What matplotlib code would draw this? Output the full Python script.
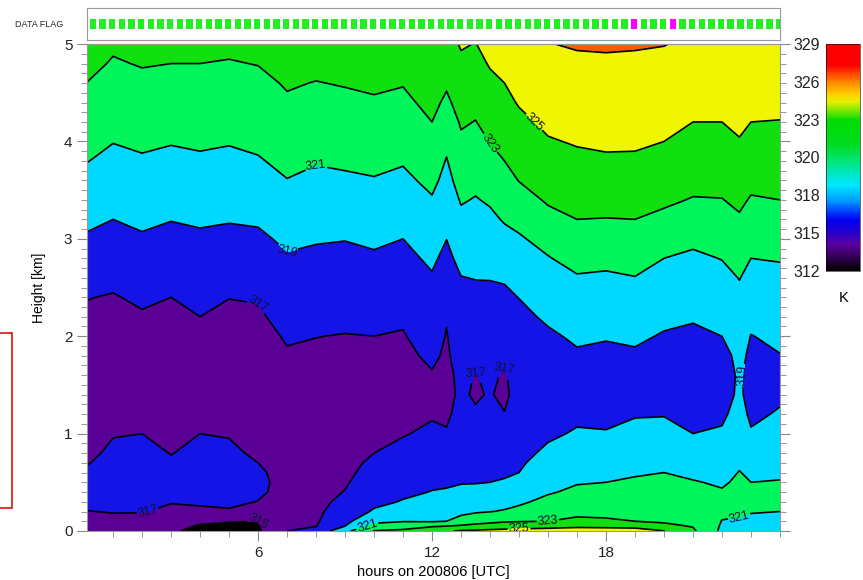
import numpy as np
import matplotlib
matplotlib.use("Agg")
import matplotlib.pyplot as plt
from matplotlib.colors import LinearSegmentedColormap, Normalize
from matplotlib.cm import ScalarMappable
from matplotlib.patches import Rectangle
from matplotlib.ticker import MultipleLocator

plt.rcParams['font.family'] = ['Liberation Sans', 'DejaVu Sans']

# time of each profile (hours UTC) and height levels (km)
hours = [0.1, 1, 2, 3, 4, 5, 6, 7, 8, 9, 10, 11, 12, 12.5, 13, 13.5, 14, 14.5,
         15, 16, 17, 18, 19, 20, 21, 22, 22.6, 23, 24]
height_km = [0, 0.05, 0.1, 0.2, 0.3, 0.4, 0.5, 0.6, 0.7, 0.8, 1.0, 1.2, 1.4, 1.6,
             1.8, 2.0, 2.2, 2.4, 2.6, 2.8, 3.0, 3.2, 3.4, 3.6, 3.8, 4.0, 4.2, 4.4,
             4.6, 4.8, 5.0]

# potential temperature profiles [K], one row per time, ground -> 5 km
theta = [
    [316.0, 316.3, 316.5, 316.95, 317.5, 317.9, 317.8, 317.3, 316.9, 316.6, 316.3, 316.1, 316.0, 316.1, 316.3, 316.5, 316.75, 317.05, 317.6, 318.2, 318.8, 319.35, 319.9, 320.5, 321.05, 321.55, 322.0, 322.5, 322.98, 323.45, 323.9],
    [315.8, 316.1, 316.5, 317.1, 317.6, 317.9, 318.0, 317.9, 317.6, 317.35, 316.9, 316.5, 316.2, 316.1, 316.2, 316.4, 316.65, 316.9, 317.35, 317.9, 318.45, 319.0, 319.5, 320.0, 320.55, 321.05, 321.5, 321.95, 322.4, 322.85, 323.25],
    [315.6, 316.0, 316.4, 317.1, 317.6, 317.9, 318.05, 318.0, 317.8, 317.5, 317.0, 316.6, 316.3, 316.2, 316.3, 316.55, 316.85, 317.25, 317.8, 318.35, 318.85, 319.25, 319.8, 320.3, 320.8, 321.3, 321.75, 322.2, 322.65, 323.1, 323.55],
    [315.2, 315.5, 315.9, 316.6, 317.1, 317.5, 317.6, 317.45, 317.2, 316.95, 316.6, 316.3, 316.1, 316.0, 316.1, 316.3, 316.6, 317.0, 317.55, 318.05, 318.55, 319.05, 319.6, 320.1, 320.6, 321.1, 321.55, 322.05, 322.5, 323.0, 323.45],
    [314.6, 314.85, 315.3, 316.6, 317.3, 317.7, 317.85, 317.8, 317.6, 317.4, 317.0, 316.6, 316.3, 316.2, 316.3, 316.6, 317.0, 317.45, 317.9, 318.35, 318.75, 319.2, 319.7, 320.25, 320.75, 321.25, 321.7, 322.15, 322.6, 323.0, 323.45],
    [314.5, 314.8, 315.05, 316.8, 317.4, 317.7, 317.8, 317.7, 317.5, 317.3, 316.9, 316.55, 316.3, 316.2, 316.25, 316.4, 316.7, 317.03, 317.6, 318.1, 318.6, 319.1, 319.6, 320.15, 320.65, 321.1, 321.55, 322.0, 322.45, 322.9, 323.35],
    [314.6, 314.8, 315.0, 316.3, 316.95, 317.3, 317.45, 317.3, 317.0, 316.75, 316.5, 316.3, 316.2, 316.2, 316.3, 316.5, 316.8, 317.1, 317.65, 318.15, 318.7, 319.2, 319.75, 320.3, 320.85, 321.35, 321.8, 322.25, 322.6, 323.05, 323.5],
    [317.0, 316.8, 316.7, 316.55, 316.45, 316.4, 316.35, 316.3, 316.3, 316.3, 316.3, 316.35, 316.45, 316.6, 316.85, 317.15, 317.5, 317.9, 318.35, 318.85, 319.3, 319.85, 320.4, 320.95, 321.45, 321.95, 322.4, 322.8, 323.15, 323.6, 324.0],
    [317.6, 316.95, 316.8, 316.65, 316.55, 316.5, 316.45, 316.4, 316.4, 316.4, 316.4, 316.45, 316.55, 316.65, 316.8, 317.02, 317.45, 317.85, 318.25, 318.7, 319.12, 319.6, 320.1, 320.6, 321.12, 321.6, 322.05, 322.5, 322.95, 323.4, 323.8],
    [320.5, 319.0, 318.5, 317.9, 317.4, 317.05, 316.85, 316.7, 316.6, 316.55, 316.5, 316.5, 316.55, 316.65, 316.8, 316.95, 317.3, 317.75, 318.2, 318.6, 319.05, 319.6, 320.2, 320.75, 321.25, 321.75, 322.2, 322.65, 323.1, 323.5, 323.9],
    [323.1, 321.6, 320.6, 319.2, 318.6, 318.2, 317.8, 317.5, 317.25, 317.0, 316.8, 316.7, 316.65, 316.7, 316.8, 317.0, 317.45, 317.9, 318.35, 318.8, 319.25, 319.8, 320.35, 320.9, 321.4, 321.9, 322.35, 322.8, 323.3, 323.7, 324.1],
    [323.4, 322.1, 320.9, 319.9, 319.1, 318.7, 318.4, 318.1, 317.8, 317.45, 316.9, 316.6, 316.5, 316.55, 316.7, 316.9, 317.2, 317.65, 318.1, 318.55, 319.0, 319.55, 320.05, 320.6, 321.15, 321.65, 322.1, 322.6, 323.1, 323.55, 323.95],
    [324.4, 322.8, 320.8, 320.1, 319.55, 319.05, 318.75, 318.5, 318.25, 317.95, 317.3, 316.85, 316.75, 316.9, 317.25, 317.7, 318.0, 318.35, 318.85, 319.3, 319.8, 320.35, 320.85, 321.45, 321.95, 322.45, 323.0, 323.5, 323.95, 324.4, 324.85],
    [324.8, 323.0, 321.0, 320.2, 319.6, 319.1, 318.85, 318.6, 318.3, 317.9, 317.1, 316.8, 316.7, 316.7, 316.8, 316.92, 317.1, 317.55, 318.05, 318.55, 319.02, 319.5, 320.0, 320.45, 320.9, 321.4, 321.95, 322.65, 323.25, 323.8, 324.3],
    [325.2, 323.3, 321.6, 320.6, 319.7, 319.2, 318.95, 318.7, 318.45, 318.2, 317.8, 317.4, 317.2, 317.3, 317.6, 317.95, 318.3, 318.65, 318.95, 319.5, 320.0, 320.6, 321.15, 321.7, 322.2, 322.7, 323.2, 323.7, 324.2, 324.7, 325.15],
    [325.3, 323.6, 322.2, 320.8, 319.8, 319.3, 318.95, 318.7, 318.4, 318.1, 317.6, 317.15, 316.85, 316.95, 317.4, 317.85, 318.25, 318.6, 319.05, 319.5, 320.0, 320.45, 320.9, 321.4, 321.9, 322.4, 322.95, 323.45, 323.95, 324.45, 324.95],
    [325.5, 323.7, 322.6, 320.95, 320.1, 319.45, 319.0, 318.75, 318.5, 318.25, 317.8, 317.35, 317.1, 317.25, 317.6, 318.0, 318.35, 318.7, 319.05, 319.55, 320.1, 320.65, 321.2, 321.75, 322.5, 323.05, 323.6, 324.1, 324.6, 325.15, 325.6],
    [325.6, 324.0, 322.8, 321.15, 320.4, 319.6, 319.1, 318.85, 318.6, 318.3, 317.7, 317.05, 316.7, 316.85, 317.3, 317.8, 318.3, 318.7, 319.15, 319.75, 320.5, 321.15, 321.75, 322.4, 323.0, 323.5, 324.0, 324.5, 325.0, 325.5, 326.0],
    [325.7, 324.1, 322.9, 321.4, 320.75, 319.8, 319.3, 319.0, 318.8, 318.55, 318.1, 317.75, 317.6, 317.7, 317.95, 318.25, 318.6, 319.03, 319.65, 320.25, 320.8, 321.5, 322.3, 323.05, 323.55, 324.0, 324.55, 325.15, 325.6, 326.0, 326.35],
    [325.9, 324.3, 323.0, 322.1, 321.4, 320.85, 320.4, 320.0, 319.6, 319.3, 318.75, 318.4, 318.2, 318.2, 318.4, 318.75, 319.25, 319.85, 320.4, 320.9, 321.6, 322.5, 323.2, 323.7, 324.2, 324.85, 325.4, 325.8, 326.15, 326.55, 326.95],
    [326.0, 324.6, 323.4, 322.5, 321.9, 321.3, 320.9, 320.5, 320.15, 319.8, 319.15, 318.7, 318.45, 318.5, 318.8, 319.25, 319.85, 320.35, 320.85, 321.6, 322.3, 323.0, 323.55, 324.1, 324.6, 325.15, 325.6, 326.0, 326.35, 326.7, 327.15],
    [326.0, 324.5, 323.2, 322.6, 322.0, 321.45, 321.0, 320.65, 320.3, 319.95, 319.1, 318.6, 318.35, 318.4, 318.7, 319.1, 319.7, 320.25, 320.75, 321.45, 322.2, 322.95, 323.6, 324.2, 324.75, 325.3, 325.75, 326.15, 326.45, 326.75, 327.2],
    [325.9, 324.4, 323.0, 322.55, 322.1, 321.65, 321.2, 320.85, 320.5, 320.2, 319.6, 318.85, 318.45, 318.4, 318.75, 319.3, 319.85, 320.4, 320.95, 321.65, 322.35, 323.0, 323.6, 324.15, 324.7, 325.3, 325.75, 326.15, 326.45, 326.7, 327.15],
    [325.05, 323.4, 322.8, 322.4, 322.0, 321.65, 321.3, 321.0, 320.7, 320.35, 319.65, 318.9, 318.5, 318.4, 318.55, 318.85, 319.4, 319.95, 320.5, 321.0, 321.8, 322.6, 323.3, 323.9, 324.45, 325.0, 325.45, 325.85, 326.25, 326.6, 327.05],
    [323.3, 322.9, 322.6, 322.2, 321.85, 321.45, 321.08, 320.75, 320.4, 320.0, 319.0, 318.5, 318.2, 318.15, 318.3, 318.7, 319.15, 319.65, 320.15, 320.7, 321.35, 322.1, 322.9, 323.5, 324.05, 324.5, 325.0, 325.45, 325.85, 326.3, 326.7],
    [320.6, 320.8, 320.95, 321.3, 321.3, 321.1, 320.85, 320.55, 320.25, 319.9, 319.2, 318.7, 318.4, 318.35, 318.5, 319.0, 319.55, 320.05, 320.55, 321.05, 321.7, 322.35, 322.95, 323.5, 324.0, 324.5, 325.0, 325.45, 325.85, 326.25, 326.65],
    [320.5, 320.7, 320.9, 321.15, 321.3, 321.3, 321.2, 321.05, 320.8, 320.5, 320.0, 319.6, 319.25, 319.2, 319.4, 319.75, 320.2, 320.65, 321.05, 321.65, 322.25, 322.8, 323.35, 323.85, 324.4, 324.9, 325.35, 325.7, 326.0, 326.3, 326.55],
    [320.4, 320.6, 320.8, 321.05, 321.2, 321.15, 321.0, 320.75, 320.45, 320.1, 319.15, 318.7, 318.5, 318.5, 318.7, 318.95, 319.5, 320.05, 320.55, 321.0, 321.6, 322.2, 322.85, 323.45, 324.0, 324.5, 325.0, 325.45, 325.85, 326.25, 326.65],
    [320.3, 320.5, 320.7, 321.0, 321.2, 321.2, 321.05, 320.85, 320.6, 320.3, 319.65, 319.15, 318.75, 318.7, 318.95, 319.35, 319.75, 320.15, 320.6, 321.1, 321.7, 322.35, 323.0, 323.55, 324.05, 324.5, 324.95, 325.4, 325.8, 326.2, 326.6],
]

fill_levels = [312, 315, 317, 319, 321, 323, 325, 327, 329]
fill_colors = ['#000000', '#5a0096', '#1414e6', '#00d8ff', '#00f55a',
               '#10e010', '#f0f500', '#ff5a00']
line_levels = [315, 317, 319, 321, 323, 325, 327]
label_levels = [315, 317, 319, 321, 323, 325]

# colour bar gradient (value, colour)
cbar_stops = [(312.0, '#000000'), (312.4, '#140020'), (313.2, '#3c0064'),
              (314.0, '#5a00a0'), (314.8, '#2800c8'), (315.8, '#0000f0'),
              (316.6, '#0050ff'), (317.3, '#00a0ff'), (318.4, '#00e6ff'),
              (319.1, '#00e6d2'), (320.2, '#00e678'), (321.5, '#00dc1e'),
              (323.3, '#00dc00'), (324.0, '#78e600'), (324.7, '#e6f000'),
              (325.2, '#ffd200'), (326.1, '#ff8c00'), (326.9, '#ff3c00'),
              (327.4, '#ff0000'), (329.0, '#ff0000')]
cbar_ticks = [312, 314.833, 317.667, 320.5, 323.333, 326.167, 329]
cbar_labels = ['312', '315', '318', '320', '323', '326', '329']

# data quality flag every 20 min (1 = flagged)
flags = [0] * 56 + [1] + [0] * 3 + [1] + [0] * 11

Z = np.array(theta).T

fig = plt.figure(figsize=(8.63, 5.8), dpi=100)
ax = fig.add_axes([0.1008, 0.0845, 0.8030, 0.8395])

ax.contourf(hours, height_km, Z, levels=fill_levels, colors=fill_colors)
cs = ax.contour(hours, height_km, Z, levels=line_levels, colors='k',
                linewidths=1.2)
ax.clabel(cs, levels=label_levels, fmt='%d', fontsize=9, inline=True,
          inline_spacing=1, colors='#101030')

ax.set_xlim(0.1, 24)
ax.set_ylim(0, 5)
ax.set_xticks([6, 12, 18])
ax.xaxis.set_minor_locator(MultipleLocator(1))
ax.yaxis.set_major_locator(MultipleLocator(1))
ax.yaxis.set_minor_locator(MultipleLocator(0.1))
ax.tick_params(which='both', direction='out', colors='#888888',
               labelcolor='#222222', labelsize=11, right=True, top=False)
ax.tick_params(which='major', length=7)
ax.tick_params(which='minor', length=4)
for s in ax.spines.values():
    s.set_color('#999999')
ax.set_xlabel('hours on 200806 [UTC]', fontsize=10.5, labelpad=4)
ax.set_ylabel('Height [km]', fontsize=10, labelpad=13)

# inward ticks along the top edge
top = ax.secondary_xaxis('top')
top.set_xticks([6, 12, 18])
top.xaxis.set_minor_locator(MultipleLocator(1))
top.tick_params(which='both', direction='in', colors='#888888', labeltop=False)
top.tick_params(which='major', length=6)
top.tick_params(which='minor', length=3)
top.spines['top'].set_color('#999999')

# data flag strip
fax = fig.add_axes([0.1008, 0.931, 0.8030, 0.055])
flag_hours = np.arange(len(flags)) / 3 + 0.3
flag_cols = ['#ff00ff' if f else '#22ee22' for f in flags]
fax.bar(flag_hours, 0.34, width=0.22, bottom=0.33, color=flag_cols)
fax.set_xlim(0.1, 24)
fax.set_ylim(0, 1)
fax.set_xticks([])
fax.set_yticks([])
for s in fax.spines.values():
    s.set_color('#999999')
fig.text(0.017, 0.957, 'DATA FLAG', fontsize=6.5, va='center', color='#222222')

# colour bar
cmap = LinearSegmentedColormap.from_list(
    'theta', [((v - 312) / 17, c) for v, c in cbar_stops])
cax = fig.add_axes([0.957, 0.533, 0.040, 0.391])
cb = fig.colorbar(ScalarMappable(norm=Normalize(312, 329), cmap=cmap), cax=cax)
cb.set_ticks(cbar_ticks)
cb.set_ticklabels(cbar_labels)
cax.yaxis.set_ticks_position('left')
cax.tick_params(length=0, labelsize=11.5, pad=4, labelcolor='#222222')
cb.outline.set_linewidth(0.4)
fig.text(0.977, 0.486, 'K', fontsize=10.5, ha='center', va='center')

# red frame at the left edge
fig.patches.append(Rectangle((-0.01, 0.124), 0.024, 0.302, transform=fig.transFigure,
                             fill=False, edgecolor='#dd1111', linewidth=1.2))

fig.savefig('out.png', dpi=100)
